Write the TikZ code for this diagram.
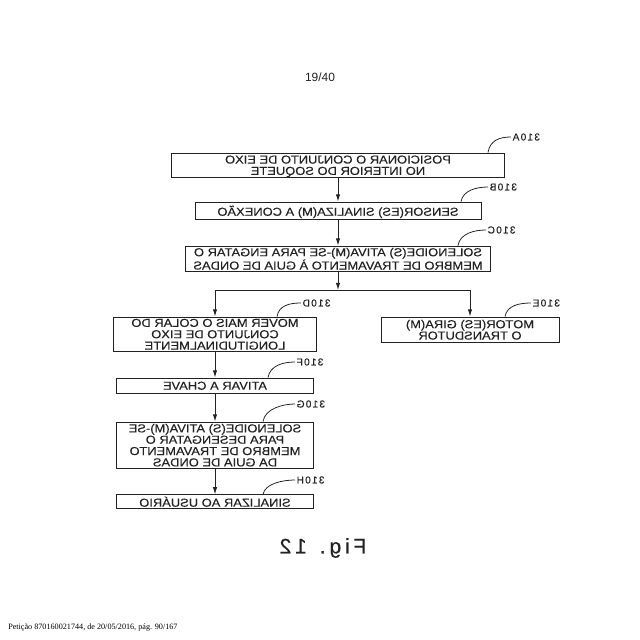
\documentclass[tikz,border=0pt]{standalone}
\usepackage{fontspec}
\usepackage{graphicx}
\setmainfont{Liberation Serif}
\setsansfont{Liberation Sans}
\newfontfamily\boxfont[FakeStretch=1.12, FakeBold=0.3]{Liberation Sans}
\newfontfamily\numfont[LetterSpace=12, FakeBold=0.2]{Liberation Sans}
\newfontfamily\figfont[LetterSpace=18, FakeBold=0.5]{Liberation Sans}
\usetikzlibrary{arrows.meta, calc}
\definecolor{figInk}{RGB}{34,34,34}
% mirrored, centred block of lines (ink lowered a little, size kept)
\newcommand{\mirr}[1]{\raisebox{-1.3pt}[\height][\depth]{\reflectbox{\begin{tabular}{@{}c@{}}#1\end{tabular}}}}
\tikzset{
  % flow-chart step
  box/.style={
    draw=figInk, line width=0.65pt, inner sep=0pt,
    text=figInk, font=\boxfont\fontsize{8.2}{7.8}\selectfont
  },
  % arrows
  flow/.style={-{Latex[length=1.8mm,width=1.1mm]}, draw=figInk, line width=0.65pt},
  lead/.style={draw=figInk, line width=0.55pt},
  % reference numerals
  tag/.style={font=\numfont\fontsize{7.2}{8}\selectfont, text=figInk, inner sep=1pt, anchor=west},
}
\begin{document}
\begin{tikzpicture}[x=0.025cm, y=-0.025cm]
\useasboundingbox (0,0) rectangle (640,640);

% ------------------------------- page texts --------------------------------
\node[font=\sffamily\fontsize{8.5}{10}\selectfont, text=figInk] (page) at (320,77) {19/40};
\node[font=\fontsize{5.8}{7}\selectfont, anchor=west, inner sep=0pt] (pet) at (8,628)
      {Petição 870160021744, de 20/05/2016, pág. 90/167};

% ------------------------------- the steps ---------------------------------
\node[box, minimum width=8.325cm, minimum height=0.6cm] (a) at (338,165)
      {\mirr{POSICIONAR O CONJUNTO DE EIXO\\NO INTERIOR DO SOQUETE}};
\node[box, minimum width=7.15cm, minimum height=0.425cm] (b) at (338,210.5)
      {\mirr{SENSOR(ES) SINALIZA(M) A CONEXÃO}};
\node[box, minimum width=7.625cm, minimum height=0.575cm] (c) at (338,258.5)
      {\mirr{SOLENOIDE(S) ATIVA(M)-SE PARA ENGATAR O\\MEMBRO DE TRAVAMENTO À GUIA DE ONDAS}};
\node[box, minimum width=5.075cm, minimum height=0.8cm] (d) at (215,334)
      {\mirr{MOVER MAIS O COLAR DO\\CONJUNTO DE EIXO\\LONGITUDINALMENTE}};
\node[box, minimum width=4.45cm, minimum height=0.625cm] (e) at (470,329.5)
      {\mirr{MOTOR(ES) GIRA(M)\\O TRANSDUTOR}};
\node[box, minimum width=4.925cm, minimum height=0.375cm] (f) at (215,385.5)
      {\mirr{ATIVAR A CHAVE}};
\node[box, minimum width=4.925cm, minimum height=1.15cm] (g) at (215,445)
      {\mirr{SOLENOIDE(S) ATIVA(M)-SE\\PARA DESENGATAR O\\MEMBRO DE TRAVAMENTO\\DA GUIA DE ONDAS}};
\node[box, minimum width=4.925cm, minimum height=0.325cm] (h) at (215,501.5)
      {\mirr{SINALIZAR AO USUÁRIO}};

% ------------------------------- connectors --------------------------------
\coordinate (split) at (338,290);
\draw[flow] (a) -- (b);
\draw[flow] (b) -- (c);
\draw[flow] (c) -- (split);
\draw[flow] (split) -| (d.north);
\draw[flow] (split) -| (e.north);
\draw[flow] (d) -- (f);
\draw[flow] (f) -- (g);
\draw[flow] (g) -- (h);

% ------------------------------- reference numerals ------------------------
\node[tag] (la) at (511,137) {\reflectbox{310A}};
\node[tag] (lb) at (488,187) {\reflectbox{310B}};
\node[tag] (lc) at (486,230) {\reflectbox{310C}};
\node[tag] (ld) at (301,303) {\reflectbox{310D}};
\node[tag] (le) at (531,303) {\reflectbox{310E}};
\node[tag] (lf) at (295,362) {\reflectbox{310F}};
\node[tag] (lg) at (295,404) {\reflectbox{310G}};
\node[tag] (lh) at (295,480) {\reflectbox{310H}};

\draw[lead] ($(a.north)+(150,0)$) .. controls +(2,-12) and +(-12,0) .. (la.west);
\draw[lead] ($(b.north)+(123,0)$) .. controls +(2,-11) and +(-12,0) .. (lb.west);
\draw[lead] ($(c.north)+(120,0)$) .. controls +(2,-12) and +(-12,0) .. (lc.west);
\draw[lead] ($(d.north)+(62,0)$) .. controls +(2,-11) and +(-12,0) .. (ld.west);
\draw[lead] ($(e.north)+(35,0)$) .. controls +(2,-11) and +(-12,0) .. (le.west);
\draw[lead] ($(f.north)+(53,0)$) .. controls +(2,-12) and +(-12,0) .. (lf.west);
\draw[lead] ($(g.north)+(48,0)$) .. controls +(2,-13) and +(-12,0) .. (lg.west);
\draw[lead] ($(h.north)+(48,0)$) .. controls +(2,-11) and +(-12,0) .. (lh.west);

% ------------------------------- figure caption ----------------------------
\node[font=\figfont\fontsize{15}{18}\selectfont, text=figInk] (fig) at (323,548)
      {\reflectbox{Fig. 12}};

\end{tikzpicture}
\end{document}
